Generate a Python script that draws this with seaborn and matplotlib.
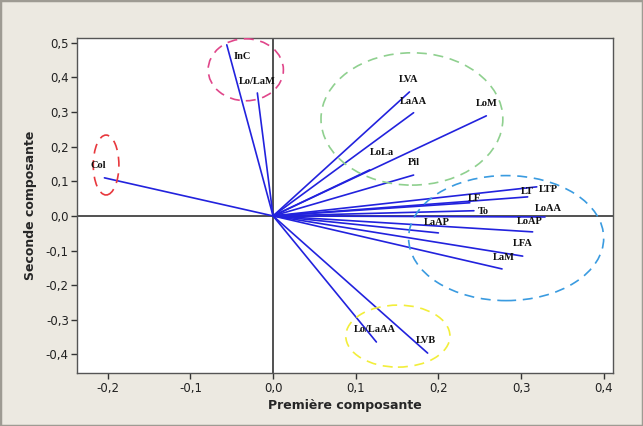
import matplotlib
matplotlib.use("Agg")
import matplotlib.pyplot as plt
from matplotlib.patches import Ellipse, Rectangle
from matplotlib.ticker import FuncFormatter
import seaborn as sns
import pandas as pd

# Loadings (première / seconde composante)
variables = ["Col", "InC", "Lo/LaM", "LVA", "LaAA", "LoM", "LoLa", "Pil",
             "LTP", "LT", "LF", "To", "LoAA", "LaAP", "LoAP", "LFA", "LaM",
             "Lo/LaAA", "LVB"]
comp1 = [-0.204, -0.056, -0.019, 0.165, 0.170, 0.258, 0.117, 0.170,
         0.319, 0.308, 0.238, 0.243, 0.329, 0.200, 0.314, 0.302, 0.277,
         0.125, 0.187]
comp2 = [0.110, 0.494, 0.355, 0.358, 0.298, 0.289, 0.133, 0.118,
         0.084, 0.055, 0.038, 0.015, -0.003, -0.049, -0.046, -0.116, -0.153,
         -0.364, -0.396]

# position des étiquettes
label_x = [-0.212, -0.037, -0.019, 0.164, 0.170, 0.258, 0.132, 0.170,
           0.333, 0.308, 0.244, 0.254, 0.333, 0.198, 0.311, 0.302, 0.279,
           0.123, 0.185]
label_y = [0.145, 0.460, 0.388, 0.393, 0.331, 0.325, 0.183, 0.154,
           0.077, 0.071, 0.050, 0.014, 0.022, -0.018, -0.015, -0.081, -0.121,
           -0.329, -0.361]

# groupes entourés (centre x, centre y, largeur, hauteur, couleur)
groups = [(-0.202, 0.147, 0.031, 0.173, "#E8383D"),
          (-0.033, 0.422, 0.091, 0.179, "#E0468A"),
          (0.168, 0.280, 0.220, 0.382, "#8FD08F"),
          (0.282, -0.064, 0.236, 0.361, "#3A9BE0"),
          (0.151, -0.347, 0.126, 0.179, "#F2EE3A")]

rows = []
for v, a, b in zip(variables, comp1, comp2):
    rows.append({"var": v, "x": 0.0, "y": 0.0})
    rows.append({"var": v, "x": a, "y": b})
df = pd.DataFrame(rows)

sns.set_style("white")
plt.rcParams["font.family"] = ["DejaVu Sans"]

bg = "#ECE9E1"
fig = plt.figure(figsize=(6.43, 4.26), dpi=100, facecolor=bg)
ax = fig.add_axes([0.12, 0.124, 0.833, 0.787])
ax.set_facecolor("white")

sns.lineplot(data=df, x="x", y="y", units="var", estimator=None, sort=False,
             color="#2222DD", linewidth=1.2, ax=ax, legend=False)

ax.axhline(0, color="#222222", linewidth=1.1, zorder=1)
ax.axvline(0, color="#222222", linewidth=1.1, zorder=1)

for v, tx, ty in zip(variables, label_x, label_y):
    ax.text(tx, ty, v, ha="center", va="center", fontsize=7.5, fontweight="bold",
            family="Liberation Serif", color="#111111", zorder=4)

for cx, cy, w, h, c in groups:
    ax.add_patch(Ellipse((cx, cy), w, h, fill=False, edgecolor=c,
                         linestyle=(0, (6, 4)), linewidth=1.2, zorder=3))

ax.set_xlim(-0.237, 0.411)
ax.set_ylim(-0.454, 0.514)
ax.set_xticks([-0.2, -0.1, 0.0, 0.1, 0.2, 0.3, 0.4])
ax.set_yticks([-0.4, -0.3, -0.2, -0.1, 0.0, 0.1, 0.2, 0.3, 0.4, 0.5])
fmt = FuncFormatter(lambda v, p: f"{v:.1f}".replace(".", ",").replace("-0,0", "0,0"))
ax.xaxis.set_major_formatter(fmt)
ax.yaxis.set_major_formatter(fmt)
ax.tick_params(axis="both", direction="out", length=4, width=1, color="#333333",
               labelsize=8.5, labelcolor="#222222", left=True, bottom=True, pad=2)
for s in ax.spines.values():
    s.set_color("#555555")
    s.set_linewidth(1.0)

ax.set_xlabel("Première composante", fontsize=9, fontweight="bold", labelpad=3)
ax.set_ylabel("Seconde composante", fontsize=9, fontweight="bold", labelpad=6)

fig.patches.append(Rectangle((0, 0), 1, 1, transform=fig.transFigure, fill=False,
                             edgecolor="#9E9B93", linewidth=2.5))

fig.savefig("out.png", dpi=100, facecolor=bg)
